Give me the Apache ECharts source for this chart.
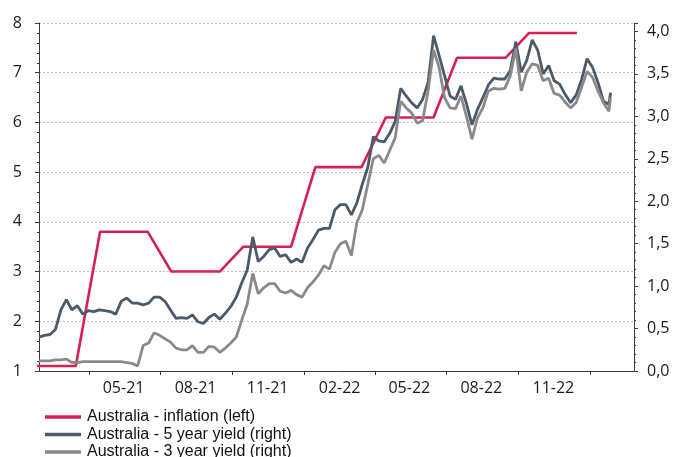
<!DOCTYPE html>
<html>
<head>
<meta charset="utf-8">
<script src="https://cdn.jsdelivr.net/npm/echarts@6/dist/echarts.min.js"></script>
<style>
  html, body { margin: 0; padding: 0; background: #ffffff; }
  #chart { width: 673px; height: 457px; }
</style>
</head>
<body>
<div id="chart"></div>
<script>
// Monthly CPI (year on year, %), each quarter's figure repeated for its three months
const cpiMonths = [
  '2021-01-15','2021-02-15','2021-03-15','2021-04-15','2021-05-15','2021-06-15',
  '2021-07-15','2021-08-15','2021-09-15','2021-10-15','2021-11-15','2021-12-15',
  '2022-01-15','2022-02-15','2022-03-15','2022-04-15','2022-05-15','2022-06-15',
  '2022-07-15','2022-08-15','2022-09-15','2022-10-15','2022-11-15','2022-12-15'
];
const inflation = [
  1.1, 1.1, 1.1, 3.8, 3.8, 3.8,
  3.0, 3.0, 3.0, 3.5, 3.5, 3.5,
  5.1, 5.1, 5.1, 6.1, 6.1, 6.1,
  7.3, 7.3, 7.3, 7.8, 7.8, 7.8
];

// Weekly government bond yields (%)
const yieldDates = [
  '2021-01-27','2021-02-03','2021-02-10','2021-02-17','2021-02-24','2021-03-03','2021-03-10','2021-03-17',
  '2021-03-24','2021-03-31','2021-04-07','2021-04-14','2021-04-21','2021-04-28','2021-05-05','2021-05-12',
  '2021-05-19','2021-05-26','2021-06-02','2021-06-09','2021-06-16','2021-06-23','2021-06-30','2021-07-07',
  '2021-07-14','2021-07-21','2021-07-28','2021-08-04','2021-08-11','2021-08-18','2021-08-25','2021-09-01',
  '2021-09-08','2021-09-15','2021-09-22','2021-09-29','2021-10-06','2021-10-13','2021-10-20','2021-10-27',
  '2021-11-03','2021-11-10','2021-11-17','2021-11-24','2021-12-01','2021-12-08','2021-12-15','2021-12-22',
  '2021-12-29','2022-01-05','2022-01-12','2022-01-19','2022-01-26','2022-02-02','2022-02-09','2022-02-16',
  '2022-02-23','2022-03-02','2022-03-09','2022-03-16','2022-03-23','2022-03-30','2022-04-06','2022-04-13',
  '2022-04-20','2022-04-27','2022-05-04','2022-05-11','2022-05-18','2022-05-25','2022-06-01','2022-06-08',
  '2022-06-15','2022-06-22','2022-06-29','2022-07-06','2022-07-13','2022-07-20','2022-07-27','2022-08-03',
  '2022-08-10','2022-08-17','2022-08-24','2022-08-31','2022-09-07','2022-09-14','2022-09-21','2022-09-28',
  '2022-10-05','2022-10-12','2022-10-19','2022-10-26','2022-11-02','2022-11-09','2022-11-16','2022-11-23',
  '2022-11-30','2022-12-07','2022-12-14','2022-12-21','2022-12-28','2023-01-04','2023-01-11','2023-01-18',
  '2023-01-25','2023-01-27'
];
const yield5y = [
  0.40, 0.42, 0.43, 0.49, 0.72, 0.84, 0.72, 0.77,
  0.67, 0.71, 0.70, 0.72, 0.71, 0.70, 0.67, 0.82,
  0.86, 0.80, 0.80, 0.78, 0.80, 0.87, 0.87, 0.82,
  0.72, 0.62, 0.63, 0.62, 0.66, 0.58, 0.56, 0.63,
  0.67, 0.61, 0.68, 0.76, 0.87, 1.04, 1.19, 1.58,
  1.29, 1.35, 1.43, 1.45, 1.35, 1.37, 1.28, 1.32,
  1.28, 1.45, 1.55, 1.66, 1.68, 1.68, 1.90, 1.96,
  1.96, 1.84, 1.98, 2.20, 2.40, 2.76, 2.71, 2.70,
  2.80, 2.94, 3.33, 3.24, 3.16, 3.10, 3.20, 3.40,
  3.95, 3.72, 3.48, 3.24, 3.20, 3.36, 3.15, 2.90,
  3.08, 3.22, 3.37, 3.45, 3.44, 3.44, 3.54, 3.88,
  3.52, 3.66, 3.90, 3.78, 3.50, 3.60, 3.42, 3.38,
  3.26, 3.16, 3.25, 3.43, 3.68, 3.58, 3.40, 3.18,
  3.14, 3.28
];
const yield3y = [
  0.12, 0.12, 0.12, 0.13, 0.13, 0.14, 0.10, 0.10,
  0.11, 0.11, 0.11, 0.11, 0.11, 0.11, 0.11, 0.11,
  0.10, 0.09, 0.06, 0.30, 0.33, 0.45, 0.42, 0.38,
  0.34, 0.27, 0.25, 0.25, 0.30, 0.22, 0.22, 0.29,
  0.28, 0.22, 0.27, 0.33, 0.40, 0.60, 0.79, 1.15,
  0.91, 0.98, 1.03, 1.03, 0.94, 0.92, 0.95, 0.90,
  0.87, 0.98, 1.05, 1.13, 1.24, 1.20, 1.40, 1.50,
  1.53, 1.36, 1.75, 1.90, 2.20, 2.50, 2.54, 2.45,
  2.60, 2.75, 3.18, 3.10, 3.04, 2.92, 2.95, 3.30,
  3.78, 3.58, 3.22, 3.10, 3.09, 3.24, 3.00, 2.73,
  2.98, 3.10, 3.30, 3.33, 3.32, 3.33, 3.48, 3.80,
  3.30, 3.52, 3.62, 3.60, 3.42, 3.45, 3.27, 3.25,
  3.17, 3.10, 3.16, 3.34, 3.53, 3.46, 3.30, 3.16,
  3.06, 3.22
];

// Quarter boundaries carry the tick marks; mid-quarter months carry the labels
const quarterTicks = [
  '2021-04-01','2021-07-01','2021-10-01','2022-01-01',
  '2022-04-01','2022-07-01','2022-10-01','2023-01-01'
];
const monthLabels = [
  '2021-05-15','2021-08-15','2021-11-15','2022-02-15',
  '2022-05-15','2022-08-15','2022-11-15'
];
const xStart = '2021-01-27';
const xEnd = '2023-02-26';

const seriesNames = [
  'Australia - inflation (left)',
  'Australia - 5 year yield (right)',
  'Australia - 3 year yield (right)'
];
const seriesColors = ['#d81f55', '#4b5a69', '#8a8a8a'];

function toTime(s) {
  const p = s.split('-').map(Number);
  return new Date(p[0], p[1] - 1, p[2]).getTime();
}
function pairs(dates, values) {
  return dates.map((d, i) => [toTime(d), values[i]]);
}
function monthYear(v) {
  const d = new Date(v);
  const m = String(d.getMonth() + 1).padStart(2, '0');
  const y = String(d.getFullYear() % 100).padStart(2, '0');
  return m + '-' + y;
}

const axisFont = { fontFamily: 'Open Sans', fontSize: 16, color: '#1a1a1a' };
const axisLine = { show: true, lineStyle: { color: '#3a3a3a', width: 1 } };

const chart = echarts.init(document.getElementById('chart'), null, { renderer: 'canvas' });
chart.setOption({
  animation: false,
  backgroundColor: '#ffffff',
  grid: { left: 39, right: 39, top: 23, bottom: 86, containLabel: false },
  legend: {
    orient: 'vertical',
    left: 45,
    top: 409,
    height: 80,
    padding: 0,
    itemWidth: 36,
    itemHeight: 3.5,
    itemGap: 1.5,
    icon: 'rect',
    data: seriesNames,
    textStyle: { fontFamily: 'Liberation Sans', fontSize: 16, color: '#111111', padding: [0, 0, 0, 1] }
  },
  xAxis: {
    // dates as millisecond timestamps on a linear scale
    type: 'value',
    min: toTime(xStart),
    max: toTime(xEnd),
    axisLine: axisLine,
    axisTick: {
      show: true, length: 4, lineStyle: { color: '#3a3a3a' },
      customValues: quarterTicks.map(toTime)
    },
    axisLabel: {
      ...axisFont,
      margin: 9,
      customValues: monthLabels.map(toTime),
      formatter: (v) => monthYear(v),
      hideOverlap: false
    },
    splitLine: { show: false }
  },
  yAxis: [
    {
      type: 'value',
      min: 1, max: 8, interval: 1,
      axisLine: axisLine,
      axisTick: { show: true, length: 4, lineStyle: { color: '#3a3a3a' } },
      minorTick: { show: true, splitNumber: 5, length: 2, lineStyle: { color: '#3a3a3a' } },
      axisLabel: { ...axisFont, margin: 17 },
      splitLine: { show: true, lineStyle: { color: '#bdbdbd', type: [2, 2], width: 1 } }
    },
    {
      type: 'value',
      position: 'right',
      min: 0, max: 4.1, interval: 0.5,
      alignTicks: false,
      axisLine: axisLine,
      axisTick: { show: true, length: 4, lineStyle: { color: '#3a3a3a' } },
      minorTick: { show: true, splitNumber: 5, length: 2, lineStyle: { color: '#3a3a3a' } },
      axisLabel: {
        ...axisFont, margin: 13, showMaxLabel: false,
        formatter: (v) => v.toFixed(1).replace('.', ',')
      },
      splitLine: { show: false }
    }
  ],
  series: [
    {
      name: seriesNames[0], type: 'line', yAxisIndex: 0,
      data: pairs(cpiMonths, inflation),
      symbol: 'none', clip: true,
      lineStyle: { color: seriesColors[0], width: 2.6 },
      itemStyle: { color: seriesColors[0] }
    },
    {
      name: seriesNames[1], type: 'line', yAxisIndex: 1,
      data: pairs(yieldDates, yield5y),
      symbol: 'none', clip: true,
      lineStyle: { color: seriesColors[1], width: 2.8 },
      itemStyle: { color: seriesColors[1] }
    },
    {
      name: seriesNames[2], type: 'line', yAxisIndex: 1,
      data: pairs(yieldDates, yield3y),
      symbol: 'none', clip: true,
      lineStyle: { color: seriesColors[2], width: 2.8 },
      itemStyle: { color: seriesColors[2] }
    }
  ]
});
</script>
</body>
</html>
